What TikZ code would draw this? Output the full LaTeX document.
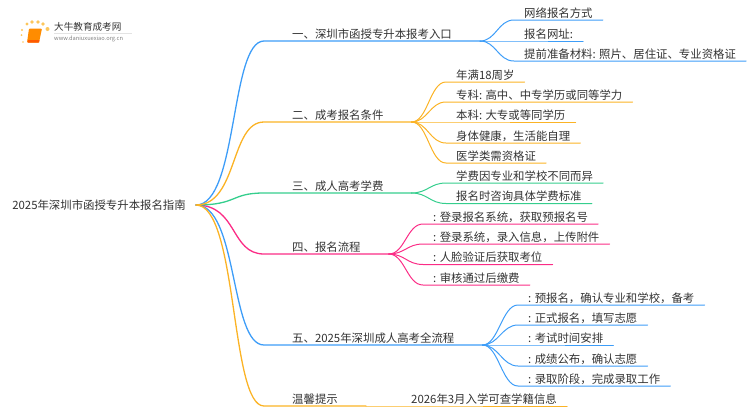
\documentclass[tikz,border=0pt]{standalone}
\usepackage{fontspec}
\setmainfont{Noto Sans CJK SC}
\definecolor{bluebr}{HTML}{3D9DF8}
\definecolor{orangebr}{HTML}{FBB325}
\definecolor{greenbr}{HTML}{35CE8D}
\definecolor{pinkbr}{HTML}{FB2C86}
\definecolor{txt}{HTML}{333333}
\tikzset{
  leaf/.style={anchor=south west, inner xsep=10pt, inner ysep=1.5pt, text height=9.5pt, text depth=1.2pt, text=txt, font=\fontsize{11.4pt}{13pt}\selectfont},
  branch/.style={leaf, inner xsep=28pt},
  link/.style={out=0, in=180, distance=#1},
  link/.default=16pt,
  rootlink/.style={out=0, in=180, out distance=42pt, in distance=34pt},
  main/.style={line width=1.3pt, line cap=round},
  twig/.style={line width=1pt, line cap=round}
}
\begin{document}
\begin{tikzpicture}[x=1pt,y=-1pt]
   \useasboundingbox (0,0) rectangle (750,410);
   % logo
   \fill[orangebr!75!white] (27,24) circle (1.6) (32,22) circle (1.8) (38,22) circle (1.9) (43,24) circle (1.8) (47.5,29) circle (2) (22,30) circle (1.2) (21.5,35) circle (1) (23,42) circle (.9);
   \fill[orange!90!yellow, rounded corners=1pt] (29,28.5) -- (42,28.5) -- (39,42.5) -- (27,42.5) -- cycle;
   \fill[orange!70!red] (28,40) -- (39.5,40) -- (39,42.5) -- (27.5,42.5) -- cycle;
   \node[text=txt, inner sep=0pt, anchor=west, font=\fontsize{9.6pt}{11pt}\selectfont] (logotitle) at (54,27) {大牛教育成考网};
   \fill[gray!22] (54,33) rectangle (132,33.6);
   \node[text=gray, inner sep=0pt, anchor=west, font=\fontsize{5.7pt}{7pt}\selectfont] (logourl) at (54,39) {www.daniuxuexiao.org.cn};
   % root and branches
   \node[text=txt, anchor=east, inner xsep=10pt, inner ysep=0pt, font=\fontsize{11.4pt}{13pt}\selectfont] (root) at (196,205) {2025年深圳市函授专升本报名指南};
   \node[branch] (one) at (264,41) {一、深圳市函授专升本报考入口};
   \node[branch] (two) at (264,122) {二、成考报名条件};
   \node[branch] (three) at (264,193) {三、成人高考学费};
   \node[branch] (four) at (264,254) {四、报名流程};
   \node[branch] (five) at (264,345) {五、2025年深圳成人高考全流程};
   \node[branch] (six) at (264,406) {温馨提示};
   \draw[main, bluebr] (root.east) to[rootlink] (one.south west) -- (one.south east);
   \draw[main, bluebr] (root.east) to[rootlink] (five.south west) -- (five.south east);
   \draw[main, pinkbr] (root.east) to[rootlink] (four.south west) -- (four.south east);
   \draw[main, greenbr] (root.east) to[rootlink] (three.south west) -- (three.south east);
   \draw[main, orangebr] (root.east) to[rootlink] (two.south west) -- (two.south east);
   \draw[main, orangebr] (root.east) to[rootlink] (six.south west) -- (six.south east);
   % first group
   \node[leaf] (a1) at (514,20) {网络报名方式};
   \node[leaf] (a2) at (514,41) {报名网址:};
   \node[leaf] (a3) at (514,61) {提前准备材料: 照片、居住证、专业资格证};
   \draw[twig, bluebr] (one.south east) to[link] (a1.south west) -- (a1.south east);
   \draw[twig, bluebr] (one.south east) to[link] (a2.south west) -- (a2.south east);
   \draw[twig, bluebr] (one.south east) to[link] (a3.south west) -- (a3.south east);
   % second group
   \node[leaf] (b1) at (446,82) {年满18周岁};
   \node[leaf] (b2) at (446,102) {专科: 高中、中专学历或同等学力};
   \node[leaf] (b3) at (446,122) {本科: 大专或等同学历};
   \node[leaf] (b4) at (446,143) {身体健康，生活能自理};
   \node[leaf] (b5) at (446,163) {医学类需资格证};
   \draw[twig, orangebr] (two.south east) to[link] (b1.south west) -- (b1.south east);
   \draw[twig, orangebr] (two.south east) to[link] (b2.south west) -- (b2.south east);
   \draw[twig, orangebr] (two.south east) to[link] (b3.south west) -- (b3.south east);
   \draw[twig, orangebr] (two.south east) to[link] (b4.south west) -- (b4.south east);
   \draw[twig, orangebr] (two.south east) to[link] (b5.south west) -- (b5.south east);
   % third group
   \node[leaf] (c1) at (446,183) {学费因专业和学校不同而异};
   \node[leaf] (c2) at (446,203.5) {报名时咨询具体学费标准};
   \draw[twig, greenbr] (three.south east) to[link] (c1.south west) -- (c1.south east);
   \draw[twig, greenbr] (three.south east) to[link] (c2.south west) -- (c2.south east);
   % fourth group
   \node[leaf] (d1) at (423,224) {: 登录报名系统，获取预报名号};
   \node[leaf] (d2) at (423,244) {: 登录系统，录入信息，上传附件};
   \node[leaf] (d3) at (423,264.5) {: 人脸验证后获取考位};
   \node[leaf] (d4) at (423,285) {: 审核通过后缴费};
   \draw[twig, pinkbr] (four.south east) to[link] (d1.south west) -- (d1.south east);
   \draw[twig, pinkbr] (four.south east) to[link] (d2.south west) -- (d2.south east);
   \draw[twig, pinkbr] (four.south east) to[link] (d3.south west) -- (d3.south east);
   \draw[twig, pinkbr] (four.south east) to[link] (d4.south west) -- (d4.south east);
   % fifth group
   \node[leaf] (e1) at (518,305) {: 预报名，确认专业和学校，备考};
   \node[leaf] (e2) at (518,325) {: 正式报名，填写志愿};
   \node[leaf] (e3) at (518,345) {: 考试时间安排};
   \node[leaf] (e4) at (518,366) {: 成绩公布，确认志愿};
   \node[leaf] (e5) at (518,386) {: 录取阶段，完成录取工作};
   \draw[twig, bluebr] (five.south east) to[link] (e1.south west) -- (e1.south east);
   \draw[twig, bluebr] (five.south east) to[link] (e2.south west) -- (e2.south east);
   \draw[twig, bluebr] (five.south east) to[link] (e3.south west) -- (e3.south east);
   \draw[twig, bluebr] (five.south east) to[link] (e4.south west) -- (e4.south east);
   \draw[twig, bluebr] (five.south east) to[link] (e5.south west) -- (e5.south east);
   % last one
   \node[leaf] (f1) at (401,406) {2026年3月入学可查学籍信息};
   \draw[twig, orangebr] (six.south east) -- (f1.south west) -- (f1.south east);
\end{tikzpicture}
\end{document}
